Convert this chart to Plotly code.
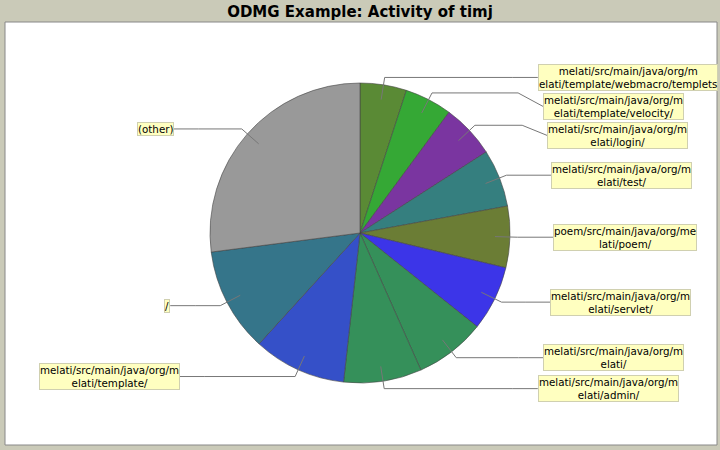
import math
import plotly.graph_objects as go

# ---- data ----
labels = [
    "melati/src/main/java/org/m\nelati/template/webmacro/templets",
    "melati/src/main/java/org/m\nelati/template/velocity/",
    "melati/src/main/java/org/m\nelati/login/",
    "melati/src/main/java/org/m\nelati/test/",
    "poem/src/main/java/org/me\nlati/poem/",
    "melati/src/main/java/org/m\nelati/servlet/",
    "melati/src/main/java/org/m\nelati/",
    "melati/src/main/java/org/m\nelati/admin/",
    "melati/src/main/java/org/m\nelati/template/",
    "/",
    "(other)",
]
values = [5.0, 5.1, 5.8, 6.2, 6.6, 7.0, 7.6, 8.4, 10.0, 11.2, 27.0]
colors = ["#5a8a35", "#35a835", "#7a35a0", "#357f7f", "#6b7d35", "#3c35e8",
          "#35905a", "#35905a", "#3550c8", "#35758a", "#999999"]
title = "ODMG Example: Activity of timj"

# ---- layout geometry (pixels) ----
W, H = 720, 450
CX, CY, R = 360, 233, 150


def px(x):
    return x / W


def py(y):
    return 1 - y / H


fig = go.Figure(go.Pie(
    values=values,
    labels=[l.replace("\n", "") for l in labels],
    marker=dict(colors=colors, line=dict(color="#444444", width=0.6)),
    sort=False, direction="clockwise", rotation=0,
    textinfo="none", showlegend=False,
    domain=dict(x=[px(CX - R), px(CX + R)], y=[py(CY + R), py(CY - R)]),
))

shapes = [dict(type="rect", xref="paper", yref="paper",
               x0=px(5), x1=px(717), y0=py(445), y1=py(22),
               fillcolor="white", line=dict(color="#888888", width=1),
               layer="below")]

total = sum(values)
cum = 0.0
items = []
for lab, v in zip(labels, values):
    mid = math.radians((cum + v / 2) / total * 360)
    cum += v
    s, c = math.sin(mid), math.cos(mid)
    ax_, ay_ = CX + 0.9 * R * s, CY - 0.9 * R * c
    bx, by = CX + 1.05 * R * s, CY - 1.05 * R * c
    items.append(dict(lab=lab, side=1 if s > 0 else -1, A=(ax_, ay_), B=(bx, by), ly=by))

# simple collision avoidance per side
for side in (1, -1):
    grp = sorted([it for it in items if it["side"] == side], key=lambda it: it["ly"])
    for i in range(1, len(grp)):
        if grp[i]["ly"] < grp[i - 1]["ly"] + 29:
            grp[i]["ly"] = grp[i - 1]["ly"] + 29

annotations = []
for it in items:
    side = it["side"]
    ly = it["ly"]
    dx = 193 * math.sqrt(max(0.0, 1 - ((ly - CY) / 400) ** 2))
    anchor_x = CX + side * dx
    cxp = anchor_x - side * 25
    A, B = it["A"], it["B"]
    path = "M {} {} L {} {} L {} {} L {} {}".format(
        px(A[0]), py(A[1]), px(B[0]), py(B[1]), px(cxp), py(B[1]), px(anchor_x), py(ly))
    shapes.append(dict(type="path", xref="paper", yref="paper", path=path,
                       line=dict(color="#777777", width=1)))
    annotations.append(dict(
        x=px(anchor_x), y=py(ly), xref="paper", yref="paper",
        xanchor="left" if side > 0 else "right", yanchor="middle",
        text=it["lab"].replace("\n", "<br>"), showarrow=False, align="center",
        font=dict(family="DejaVu Sans", size=10.3, color="black"),
        bgcolor="#ffffc0", bordercolor="#d0d0b0", borderwidth=1, borderpad=0,
    ))

fig.update_layout(
    width=W, height=H,
    margin=dict(l=0, r=0, t=0, b=0),
    paper_bgcolor="#cacab8",
    title=dict(text="<b>" + title + "</b>", x=0.5, xanchor="center",
               y=py(12), yanchor="middle", xref="paper", yref="paper",
               font=dict(family="DejaVu Sans", size=15, color="black")),
    shapes=shapes,
    annotations=annotations,
)

fig.write_html("out.html",
               config={"displayModeBar": False},
               post_script="document.body.style.margin='0';document.body.style.overflow='hidden';")
